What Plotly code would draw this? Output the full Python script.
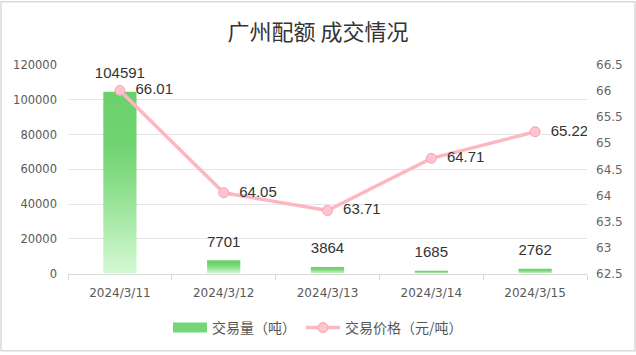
import plotly.graph_objects as go

# ---- data ----
dates = ["2024/3/11", "2024/3/12", "2024/3/13", "2024/3/14", "2024/3/15"]
volume = [104591, 7701, 3864, 1685, 2762]
price = [66.01, 64.05, 63.71, 64.71, 65.22]
left_ticks = [0, 20000, 40000, 60000, 80000, 100000, 120000]
right_ticks = [62.5, 63, 63.5, 64, 64.5, 65, 65.5, 66, 66.5]

W, H = 636, 355
ML, MR, MT, MB = 68, 49, 65, 79
PW, PH = W - ML - MR, H - MT - MB

idx = list(range(len(dates)))
bar_half = 0.16
green_scale = [[0, "#d4f9d4"], [0.45, "#8fe08f"], [0.7, "#70d470"], [1, "#6bd16b"]]

fig = go.Figure()

# bars drawn as filled shapes in data coordinates with vertical gradient
for i, v in zip(idx, volume):
    fig.add_trace(go.Scatter(
        x=[i - bar_half, i - bar_half, i + bar_half, i + bar_half, i - bar_half],
        y=[0, v, v, 0, 0],
        mode="lines", line=dict(width=0, color="#6bd16b"),
        fill="toself",
        fillgradient=dict(type="vertical", colorscale=green_scale),
        showlegend=False, hoverinfo="skip",
    ))

# bar value labels
fig.add_trace(go.Scatter(
    x=idx, y=volume, mode="markers+text",
    marker=dict(size=14, opacity=0),
    text=[str(v) for v in volume], textposition="top center",
    textfont=dict(family="Liberation Sans", size=15, color="#333333"),
    showlegend=False, hoverinfo="skip",
))

# legend entry for volume
fig.add_trace(go.Scatter(
    x=[None], y=[None], mode="lines",
    line=dict(color="#74d674", width=10),
    name="交易量（吨）",
))

# price line
fig.add_trace(go.Scatter(
    x=idx, y=price, yaxis="y2", mode="lines+markers+text",
    line=dict(color="#fcb8c1", width=3.5),
    marker=dict(size=10, color="#ffc4cc", line=dict(color="#f5a3af", width=1)),
    text=["\u00a0\u00a0" + f"{p:.2f}" for p in price], textposition="middle right",
    textfont=dict(family="Liberation Sans", size=15, color="#333333"),
    name="交易价格（元/吨）",
))

tickfont_l = dict(family="DejaVu Sans", size=11.5, color="#595959")

fig.update_layout(
    width=W, height=H,
    margin=dict(l=ML, r=MR, t=MT, b=MB),
    paper_bgcolor="white", plot_bgcolor="white",
    title=dict(text="广州配额 成交情况", x=0.5, xanchor="center",
               y=1 - 32 / H, yanchor="middle", yref="container",
               font=dict(family="Noto Sans CJK SC", size=22, color="#333333")),
    xaxis=dict(range=[-0.5, 4.5], tickvals=idx, ticktext=dates, ticks="",
               showgrid=False, zeroline=False, showline=True,
               linecolor="#d9d9d9", linewidth=1,
               tickfont=dict(family="DejaVu Sans", size=12, color="#595959"),
               ticklabelstandoff=8,
               minor=dict(tickvals=[i - 0.5 for i in range(len(dates) + 1)],
                          ticks="outside", ticklen=5, tickcolor="#d9d9d9",
                          showgrid=False)),
    yaxis=dict(range=[0, 120000], tickvals=left_ticks, tickformat="d",
               showgrid=True, gridcolor="#e6e6e6", gridwidth=1,
               zeroline=False, showline=False,
               tickfont=tickfont_l, ticklabelstandoff=10),
    yaxis2=dict(overlaying="y", side="right", range=[62.5, 66.5],
                tickvals=right_ticks, showgrid=False, zeroline=False,
                showline=False,
                tickfont=dict(family="DejaVu Sans", size=12, color="#666666"),
                ticklabelstandoff=8),
    legend=dict(orientation="h", x=0.5, xanchor="center", xref="container",
                y=1 - 328 / H, yanchor="middle", yref="container",
                font=dict(family="Noto Sans CJK SC", size=14, color="#555555"),
                itemwidth=34, bgcolor="rgba(0,0,0,0)"),
    shapes=[dict(type="rect", xref="paper", yref="paper",
                 x0=(-ML + 1) / PW, x1=1 + (MR - 1) / PW,
                 y0=(-MB + 1) / PH, y1=1 + (MT - 1) / PH,
                 line=dict(color="#d9d9d9", width=1.5), layer="above")],
)

fig.write_html("out.html")
